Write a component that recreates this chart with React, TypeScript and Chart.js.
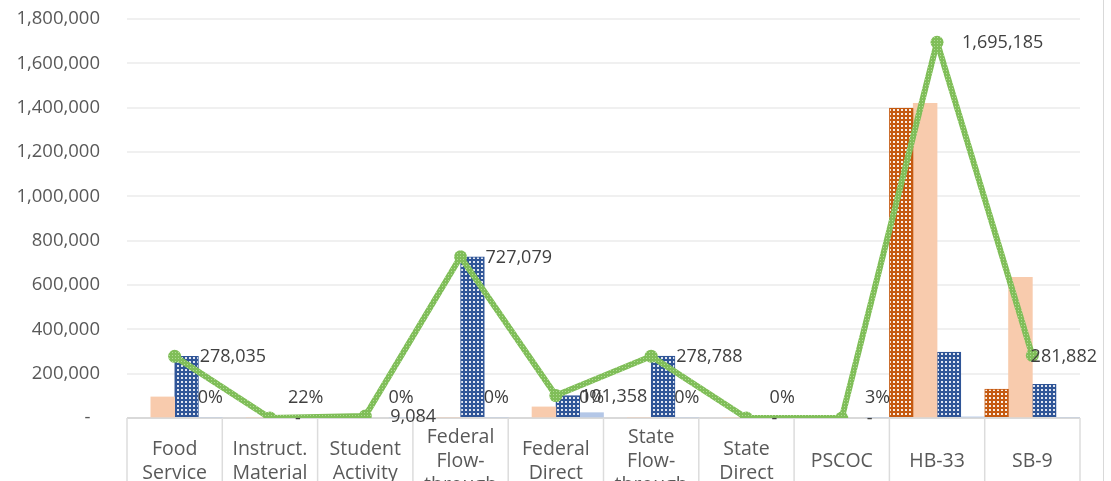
import React, { useEffect, useRef } from "react";
import { Chart, registerables } from "chart.js";

Chart.register(...registerables);

const categories: (string | string[])[] = [
  ["Food", "Service"],
  ["Instruct.", "Material"],
  ["Student", "Activity"],
  ["Federal", "Flow-", "through"],
  ["Federal", "Direct"],
  ["State", "Flow-", "through"],
  ["State", "Direct"],
  "PSCOC",
  "HB-33",
  "SB-9",
];

const orangeValues = [0, 0, 9084, 0, 0, 0, 0, 0, 1398000, 130000];
const peachValues = [95000, 0, 0, 0, 50000, 0, 0, 0, 1420000, 635000];
const blueValues = [278035, 0, 0, 727079, 101358, 278788, 0, 0, 297185, 151882];
const lightBlueValues = [0, 0, 0, 0, 24000, 0, 0, 0, 5000, 0];
const totalValues = [278035, 0, 9084, 727079, 101358, 278788, 0, 0, 1695185, 281882];
const percentLabels: (string | null)[] = ["0%", "22%", "0%", "0%", "0%", "0%", "0%", "3%", null, null];

const yMax = 1800000;
const yStep = 200000;

const FONT = "'Open Sans', 'DejaVu Sans', sans-serif";

function fmt(v: number): string {
  if (v === 0) return "-";
  return v.toLocaleString("en-US");
}

function makePattern(ctx: CanvasRenderingContext2D, base: string, dot: string, size = 4, dotSize = 2) {
  const c = document.createElement("canvas");
  c.width = size;
  c.height = size;
  const g = c.getContext("2d")!;
  g.fillStyle = base;
  g.fillRect(0, 0, size, size);
  g.fillStyle = dot;
  g.fillRect(1, 1, dotSize, dotSize);
  return ctx.createPattern(c, "repeat")!;
}

export default function App() {
  const ref = useRef<HTMLCanvasElement | null>(null);

  useEffect(() => {
    document.body.style.margin = "0";
    const canvas = ref.current!;
    const ctx = canvas.getContext("2d")!;

    const orangePat = makePattern(ctx, "#C55A11", "rgba(255,255,255,0.9)");
    const bluePat = makePattern(ctx, "#2F5597", "rgba(255,255,255,0.85)");
    const greenPat = makePattern(ctx, "#80be59", "rgba(190,228,165,0.8)", 3, 1);

    const overlay = {
      id: "overlay",
      beforeDatasetsDraw(chart: any) {
        const c = chart.ctx;
        const area = chart.chartArea;
        const xs = chart.scales.x;
        c.save();
        c.strokeStyle = "#d9d9d9";
        c.lineWidth = 2;
        c.beginPath();
        c.moveTo(area.left, area.bottom);
        c.lineTo(area.right, area.bottom);
        c.stroke();
        const n = categories.length;
        const w = (area.right - area.left) / n;
        c.lineWidth = 1.5;
        c.strokeStyle = "#dcdcdc";
        for (let i = 0; i <= n; i++) {
          const x = i < n ? xs.getPixelForValue(i) - w / 2 : xs.getPixelForValue(n - 1) + w / 2;
          c.beginPath();
          c.moveTo(x, area.bottom);
          c.lineTo(x, chart.height);
          c.stroke();
        }
        c.strokeStyle = "#d9d9d9";
        c.lineWidth = 1;
        c.beginPath();
        c.moveTo(chart.width - 7.5, 0);
        c.lineTo(chart.width - 7.5, chart.height);
        c.stroke();
        c.restore();
      },
      afterDatasetsDraw(chart: any) {
        const c = chart.ctx;
        c.save();
        c.font = `18px ${FONT}`;
        c.fillStyle = "#404040";
        c.textBaseline = "middle";
        const lbMeta = chart.getDatasetMeta(3);
        c.textAlign = "center";
        lbMeta.data.forEach((bar: any, i: number) => {
          const t = percentLabels[i];
          if (!t) return;
          c.fillText(t, bar.x, chart.chartArea.bottom - 20);
        });
        const lineMeta = chart.getDatasetMeta(4);
        c.textAlign = "left";
        const maxRight = chart.width - 14;
        lineMeta.data.forEach((pt: any, i: number) => {
          const t = fmt(totalValues[i]);
          const tw = c.measureText(t).width;
          let x = pt.x + 25;
          if (x + tw > maxRight) x = maxRight - tw;
          c.fillText(t, x, pt.y + 1);
        });
        c.restore();
      },
    };

    const chart = new Chart(ctx, {
      type: "bar",
      data: {
        labels: categories,
        datasets: [
          {
            type: "bar",
            label: "Orange",
            data: orangeValues,
            backgroundColor: orangePat,
            borderColor: "#C55A11",
            borderWidth: 1,
            order: 2,
          },
          {
            type: "bar",
            label: "Peach",
            data: peachValues,
            backgroundColor: "#F8CBAD",
            order: 2,
          },
          {
            type: "bar",
            label: "Blue",
            data: blueValues,
            backgroundColor: bluePat,
            borderColor: "#2F5597",
            borderWidth: 1,
            order: 2,
          },
          {
            type: "bar",
            label: "Light Blue",
            data: lightBlueValues,
            backgroundColor: "#B4C7E7",
            order: 2,
          },
          {
            type: "line",
            label: "Total",
            data: totalValues,
            borderColor: greenPat,
            backgroundColor: greenPat,
            borderWidth: 6,
            borderJoinStyle: "round",
            borderCapStyle: "round",
            pointRadius: 6.5,
            pointBorderWidth: 0,
            pointBackgroundColor: greenPat,
            tension: 0,
            order: 0,
          } as any,
        ],
      },
      options: {
        animation: false,
        responsive: false,
        maintainAspectRatio: false,
        datasets: { bar: { categoryPercentage: 1, barPercentage: 1 } },
        layout: { padding: { top: 19, right: 31, left: 0, bottom: 0 } },
        plugins: { legend: { display: false }, tooltip: { enabled: false } },
        scales: {
          x: {
            grid: { display: false },
            border: { display: false },
            ticks: {
              autoSkip: false,
              maxRotation: 0,
              minRotation: 0,
              padding: 11,
              crossAlign: "center",
              color: "#595959",
              font: { family: FONT, size: 19.5, lineHeight: 1.23 },
            },
            afterFit: (s: any) => {
              s.height = 63;
            },
          },
          y: {
            min: 0,
            max: yMax,
            grid: {
              color: "#f0f0f0",
              lineWidth: 2,
              drawTicks: true,
              tickLength: 27,
              tickColor: "rgba(0,0,0,0)",
            },
            border: { display: false },
            ticks: {
              stepSize: yStep,
              padding: 0,
              color: "#595959",
              font: { family: FONT, size: 18.5 },
              callback: (v: any) => (Number(v) === 0 ? "-  " : Number(v).toLocaleString("en-US")),
            },
            afterFit: (s: any) => {
              s.width = 127;
            },
          },
        },
      },
      plugins: [overlay],
    } as any);

    return () => chart.destroy();
  }, []);

  return (
    <div style={{ width: 1111, height: 481, position: "relative" }}>
      <canvas ref={ref} width={1111} height={481} style={{ display: "block" }} />
    </div>
  );
}
